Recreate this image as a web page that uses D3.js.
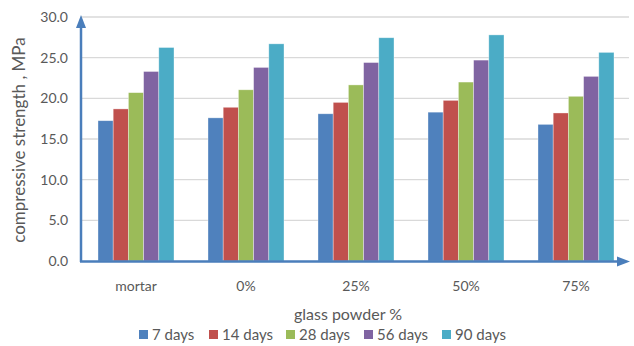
<!DOCTYPE html>
<html><head><meta charset="utf-8">
<script src="https://cdn.jsdelivr.net/npm/d3@7/dist/d3.min.js"></script>
<style>body{margin:0;background:#fff;} text{font-family:Lato, "Open Sans", sans-serif;}</style>
</head><body>
<svg id="c" width="634" height="346"></svg>
<script>
const categories = ["mortar", "0%", "25%", "50%", "75%"];
const seriesNames = ["7 days", "14 days", "28 days", "56 days", "90 days"];
const values7 = [17.25, 17.6, 18.1, 18.3, 16.8];
const values14 = [18.7, 18.9, 19.5, 19.75, 18.2];
const values28 = [20.7, 21.05, 21.65, 22.0, 20.25];
const values56 = [23.3, 23.8, 24.4, 24.7, 22.7];
const values90 = [26.25, 26.7, 27.45, 27.8, 25.65];
const yTicks = [0, 5, 10, 15, 20, 25, 30];
const colors = ["#4F81BD", "#C0504D", "#9BBB59", "#8064A2", "#4BACC6"];
const series = [values7, values14, values28, values56, values90];

const svg = d3.select("#c");
const x0 = 81, x1 = 631, yb = 261, yt = 17;
const x = d3.scaleBand().domain(categories).range([x0, x1]).paddingInner(0.309).paddingOuter(0.1545);
const xs = d3.scaleBand().domain(seriesNames).range([0, x.bandwidth()]);
const y = d3.scaleLinear().domain([0, 30]).range([yb, yt]);

// gridlines
svg.append("g").selectAll("line").data(yTicks.filter(d => d > 0)).join("line")
  .attr("x1", x0).attr("x2", 629).attr("y1", d => y(d)).attr("y2", d => y(d))
  .attr("stroke", "#D9D9D9").attr("stroke-width", 1.3);

// y tick labels
svg.append("g").selectAll("text").data(yTicks).join("text")
  .attr("x", 68).attr("y", d => y(d)).attr("dy", "0.35em").attr("text-anchor", "end")
  .attr("font-size", 14).attr("fill", "#595959").text(d => d.toFixed(1));

// bars
const g = svg.append("g");
series.forEach((vals, si) => {
  g.selectAll(".s" + si).data(vals).join("rect")
    .attr("x", (d, i) => x(categories[i]) + xs(seriesNames[si]))
    .attr("width", xs.bandwidth())
    .attr("y", d => y(d)).attr("height", d => yb - y(d))
    .attr("fill", colors[si]).attr("stroke", "#ffffff").attr("stroke-opacity", 0.5).attr("stroke-width", 0.7);
});

// axes with arrows
const axisColor = "#4A7EBB";
svg.append("line").attr("x1", 81).attr("x2", 81).attr("y1", yb + 1).attr("y2", 27)
  .attr("stroke", axisColor).attr("stroke-width", 2.5);
svg.append("path").attr("d", "M81,15 L76,28 L86,28 Z").attr("fill", axisColor);
svg.append("line").attr("x1", 80).attr("x2", 618).attr("y1", yb + 0.5).attr("y2", yb + 0.5)
  .attr("stroke", axisColor).attr("stroke-width", 2.5);
svg.append("path").attr("d", `M630,${yb+0.5} L617,${yb-4.5} L617,${yb+5.5} Z`).attr("fill", axisColor);

// x tick labels
svg.append("g").selectAll("text").data(categories).join("text")
  .attr("x", d => x(d) + x.bandwidth() / 2).attr("y", 291).attr("text-anchor", "middle")
  .attr("font-size", 14).attr("fill", "#595959").text(d => d);

// titles
svg.append("text").attr("x", 348).attr("y", 320).attr("text-anchor", "middle")
  .attr("font-size", 16).attr("fill", "#595959").text("glass powder %");
svg.append("text").attr("transform", "translate(25,140) rotate(-90)").attr("text-anchor", "middle")
  .attr("font-size", 17).attr("fill", "#595959").text("compressive strength , MPa");

// legend
const legX = [139, 209, 286, 364, 442];
const leg = svg.append("g");
seriesNames.forEach((n, i) => {
  leg.append("rect").attr("x", legX[i]).attr("y", 330).attr("width", 9).attr("height", 9).attr("fill", colors[i]);
  leg.append("text").attr("x", legX[i] + 13).attr("y", 340).attr("font-size", 15).attr("fill", "#595959").text(n);
});
</script>
</body></html>
